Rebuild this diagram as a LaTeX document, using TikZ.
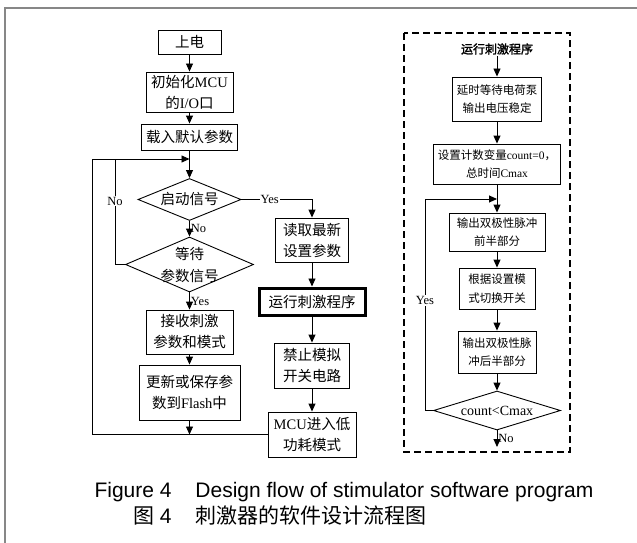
\documentclass[tikz,border=0pt]{standalone}
\usepackage{fontspec}
\setmainfont{Liberation Serif}
\newfontfamily\cjk{Noto Sans CJK SC}
\newfontfamily\cjkbold[FakeBold=2]{Noto Sans CJK SC}
\newfontfamily\capfont{Liberation Sans}
\newcommand\zh[1]{{\cjk #1}}
\usetikzlibrary{arrows.meta,shapes.geometric}
\definecolor{framegray}{RGB}{135,135,135}
\begin{document}
\begin{tikzpicture}[x=1pt,y=-1pt,
  line width=0.9pt, >={Triangle[length=8pt,width=7pt]},
  lbox/.style={draw, inner sep=0pt, align=center, font=\fontsize{14.5}{21}\selectfont},
  rbox/.style={draw, inner sep=0pt, align=center, font=\fontsize{11.5}{18.5}\selectfont},
  dia/.style={draw, diamond, inner sep=0pt},
  lab/.style={inner sep=1pt, font=\fontsize{12.5}{13}\selectfont},
  capt/.style={inner sep=0pt, font=\capfont\fontsize{21}{21}\selectfont}]
\useasboundingbox (0,0) rectangle (637,543);
% outer frame
\draw[framegray, line width=2pt] (5,543) -- (5,8) -- (637,8);

% ---- left column ----
\node[lbox, minimum width=63pt, minimum height=24pt] (n1) at (189.5,42) {\zh{上电}};
\node[lbox, minimum width=87pt, minimum height=40pt] (n2) at (189.5,92) {\zh{初始化}MCU\\\zh{的}I/O\zh{口}};
\node[lbox, minimum width=96pt, minimum height=26pt] (n3) at (189.5,137) {\zh{载入默认参数}};
\node[dia, minimum width=103pt, minimum height=42pt,
  label={[font=\fontsize{14.5}{21}\selectfont]center:\zh{启动信号}}] (d1) at (189.5,199.5) {};
\node[dia, minimum width=128pt, minimum height=55pt,
  label={[align=center, font=\fontsize{14.5}{22}\selectfont]center:\zh{等待}\\\zh{参数信号}}] (d2) at (189.5,264.5) {};
\node[lbox, minimum width=87pt, minimum height=44pt] (n4) at (189.5,332) {\zh{接收刺激}\\\zh{参数和模式}};
\node[lbox, minimum width=101pt, minimum height=55pt] (n5) at (189.5,392.5) {\zh{更新或保存参}\\\zh{数到}Flash\zh{中}};

% ---- middle column ----
\node[lbox, minimum width=73pt, minimum height=44pt] (n6) at (312,240) {\zh{读取最新}\\\zh{设置参数}};
\node[lbox, line width=3pt, minimum width=106pt, minimum height=27pt] (n7) at (312,301.5) {\zh{运行刺激程序}};
\node[lbox, minimum width=75pt, minimum height=45pt] (n8) at (312,365.5) {\zh{禁止模拟}\\\zh{开关电路}};
\node[lbox, minimum width=88pt, minimum height=45pt] (n9) at (312,434.5) {MCU\zh{进入低}\\\zh{功耗模式}};

\coordinate (j1) at (189.5,159);
\coordinate (lx) at (92,159);
\coordinate (lx2) at (115,159);

\draw[->] (n1) -- (n2);
\draw[->] (n2) -- (n3);
\draw[->] (n3) -- (d1);
\draw[->] (d1) -- (d2) node[midway, right, lab] {No};
\draw[->] (d2) -- (n4) node[midway, right, lab] {Yes};
\draw[->] (n4) -- (n5);
\draw[->] (n5) -- (n5 |- n9.west);
\draw[->] (n9.west) -| (lx) -- (j1);
\draw (d2.west) -| (lx2) node[pos=0.8, lab, fill=white] {No};
\draw[->] (d1.east) -| (n6.north) node[pos=0.2, lab, fill=white] {Yes};
\draw[->] (n6) -- (n7);
\draw[->] (n7) -- (n8);
\draw[->] (n8) -- (n9);

% ---- right dashed block ----
\draw[line width=1.8pt, dash pattern=on 7pt off 4pt] (404,33) rectangle (570,452);
\node[inner sep=1pt] (t0) at (497,49) {\cjkbold\fontsize{12}{12}\selectfont 运行刺激程序};
\node[rbox, minimum width=89pt, minimum height=44pt] (r1) at (497,99) {\zh{延时等待电荷泵}\\\zh{输出电压稳定}};
\node[rbox, minimum width=127pt, minimum height=40pt] (r2) at (497,164) {\zh{设置计数变量}count=0\zh{，}\\\zh{总时间}Cmax};
\node[rbox, minimum width=96pt, minimum height=38pt] (r3) at (497,232) {\zh{输出双极性脉冲}\\\zh{前半部分}};
\node[rbox, minimum width=76pt, minimum height=41pt] (r4) at (497,288.5) {\zh{根据设置模}\\\zh{式切换开关}};
\node[rbox, minimum width=78pt, minimum height=42pt] (r5) at (497,352) {\zh{输出双极性脉}\\\zh{冲后半部分}};
\node[dia, minimum width=127pt, minimum height=39pt,
  label={[font=\fontsize{14}{14}\selectfont]center:count<Cmax}] (rd) at (497,410.5) {};

\coordinate (rj) at (497,199);
\coordinate (rx) at (425,199);
\coordinate (rend) at (497,447);

\draw[->] (t0) -- (r1);
\draw[->] (r1) -- (r2);
\draw[->] (r2) -- (r3);
\draw[->] (r3) -- (r4);
\draw[->] (r4) -- (r5);
\draw[->] (r5) -- (rd);
\draw[->] (rd.west) -| (rx) node[pos=0.76, lab, fill=white] {Yes} -- (rj);
\draw[->] (rd) -- (rend) node[midway, right, lab] {No};

% ---- caption ----
\node[capt, anchor=base east] (c1a) at (172,497.5) {Figure 4};
\node[capt, anchor=base west] (c1b) at (195,497.5) {Design flow of stimulator software program};
\node[capt, anchor=base east] (c2a) at (172,523) {\zh{图} 4};
\node[capt, anchor=base west] (c2b) at (195,523) {\zh{刺激器的软件设计流程图}};
\end{tikzpicture}
\end{document}
